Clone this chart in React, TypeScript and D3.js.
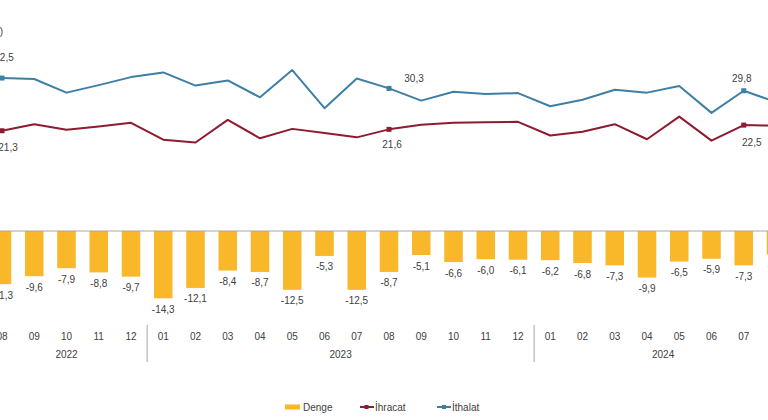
import React from "react";
import * as d3 from "d3";

const months = ["08","09","10","11","12","01","02","03","04","05","06","07","08","09","10","11","12","01","02","03","04","05","06","07","08"];
const years = ["2022","2022","2022","2022","2022","2023","2023","2023","2023","2023","2023","2023","2023","2023","2023","2023","2023","2024","2024","2024","2024","2024","2024","2024","2024"];
const ihracat = [21.3,22.7,21.5,22.2,23.0,19.4,18.8,23.6,19.7,21.7,20.8,19.9,21.6,22.6,23.0,23.1,23.2,20.3,21.1,22.7,19.5,24.3,19.2,22.5,22.4];
const ithalat = [32.5,32.3,29.4,31.0,32.7,33.7,30.9,32.0,28.4,34.2,26.1,32.4,30.3,27.7,29.6,29.1,29.3,26.5,27.9,30.0,29.4,30.8,25.1,29.8,27.4];
const denge = [-11.3,-9.6,-7.9,-8.8,-9.7,-14.3,-12.1,-8.4,-8.7,-12.5,-5.3,-12.5,-8.7,-5.1,-6.6,-6.0,-6.1,-6.2,-6.8,-7.3,-9.9,-6.5,-5.9,-7.3,-5.0];
const labeledIdx = [0, 12, 23];
const legendNames = ["Denge", "İhracat", "İthalat"];
const unitLabel = "(Milyar $)";

const W = 768, H = 420;
const C_BAR = "#F8B829", C_EXP = "#8E1B30", C_IMP = "#3F7FA6", C_TXT = "#404040";
const fmt = (v: number) => v.toFixed(1).replace(".", ",");

// label offsets (layout only)
const impOff: [number, number][] = [[2, -21], [25, -10], [-2, -12]];
const expOff: [number, number][] = [[6, 17], [3, 15], [8, 17]];

export default function App() {
  const idx = months.map((_, i) => String(i));
  const step = 32.25;
  const r0 = 2 - step / 2;
  const x = d3.scaleBand<string>().domain(idx).range([r0, r0 + step * months.length]).paddingInner(0).paddingOuter(0);
  const cx = (i: number) => (x(String(i)) as number) + x.bandwidth() / 2;
  const y = d3.scaleLinear().domain([-20, 40]).range([231 + 20 * 4.706, 231 - 40 * 4.706]);
  const barW = 18.5;

  const line = d3.line<number>().x((_, i) => cx(i)).y((v) => y(v));

  // year groups
  const groups: { year: string; start: number; end: number }[] = [];
  years.forEach((yr, i) => {
    const g = groups[groups.length - 1];
    if (g && g.year === yr) g.end = i;
    else groups.push({ year: yr, start: i, end: i });
  });

  const font = "'Liberation Sans', Arial, sans-serif";

  return (
    <div style={{ position: "absolute", left: 0, top: 0, width: W, height: H, background: "#fff" }}>
      <svg width={W} height={H} style={{ display: "block", overflow: "hidden" }} fontFamily={font}>
        <rect x={0} y={0} width={W} height={H} fill="#fff" />
        <text x={3} y={35} fontSize={10} fill={C_TXT} textAnchor="end">{unitLabel}</text>

        {/* bars */}
        {denge.map((v, i) => (
          <rect key={"b" + i} x={cx(i) - barW / 2} y={y(0)} width={barW} height={y(v) - y(0)} fill={C_BAR} />
        ))}
        {/* baseline */}
        <line x1={0} x2={W} y1={y(0)} y2={y(0)} stroke="#a6a6a6" strokeWidth={1} />
        {/* bar labels */}
        {denge.map((v, i) => (
          <text key={"bl" + i} x={cx(i)} y={y(v) + 11} fontSize={10} fill={C_TXT} textAnchor="middle" dominantBaseline="central">{fmt(v)}</text>
        ))}

        {/* lines */}
        <path d={line(ithalat) || ""} fill="none" stroke={C_IMP} strokeWidth={2} strokeLinejoin="round" />
        <path d={line(ihracat) || ""} fill="none" stroke={C_EXP} strokeWidth={2} strokeLinejoin="round" />
        {labeledIdx.map((i, k) => (
          <g key={"m" + i}>
            <rect x={cx(i) - 2.5} y={y(ithalat[i]) - 2.5} width={5} height={5} fill={C_IMP} />
            <rect x={cx(i) - 2.5} y={y(ihracat[i]) - 2.5} width={5} height={5} fill={C_EXP} />
            <text x={cx(i) + impOff[k][0]} y={y(ithalat[i]) + impOff[k][1]} fontSize={10} fill={C_TXT} textAnchor="middle" dominantBaseline="central">{fmt(ithalat[i])}</text>
            <text x={cx(i) + expOff[k][0]} y={y(ihracat[i]) + expOff[k][1]} fontSize={10} fill={C_TXT} textAnchor="middle" dominantBaseline="central">{fmt(ihracat[i])}</text>
          </g>
        ))}

        {/* x axis labels */}
        {months.map((m, i) => (
          <text key={"mo" + i} x={cx(i)} y={336} fontSize={10} fill={C_TXT} textAnchor="middle" dominantBaseline="central">{m}</text>
        ))}
        {groups.map((g, k) => (
          <g key={"g" + k}>
            <text x={(cx(g.start) + cx(g.end)) / 2} y={354} fontSize={10} fill={C_TXT} textAnchor="middle" dominantBaseline="central">{g.year}</text>
            {k > 0 && (
              <line x1={x(String(g.start)) as number} x2={x(String(g.start)) as number} y1={325} y2={362} stroke="#a6a6a6" strokeWidth={1} />
            )}
          </g>
        ))}

        {/* legend */}
        <g fontSize={10} fill={C_TXT}>
          <rect x={285} y={404.5} width={15} height={5} fill={C_BAR} />
          <text x={303} y={407} dominantBaseline="central">{legendNames[0]}</text>
          <line x1={360} x2={374} y1={407} y2={407} stroke={C_EXP} strokeWidth={2} />
          <rect x={364.5} y={405} width={4} height={4} fill={C_EXP} />
          <text x={375} y={407} dominantBaseline="central">{legendNames[1]}</text>
          <line x1={437} x2={451} y1={407} y2={407} stroke={C_IMP} strokeWidth={2} />
          <rect x={442} y={405} width={4} height={4} fill={C_IMP} />
          <text x={452} y={407} dominantBaseline="central">{legendNames[2]}</text>
        </g>
      </svg>
    </div>
  );
}
